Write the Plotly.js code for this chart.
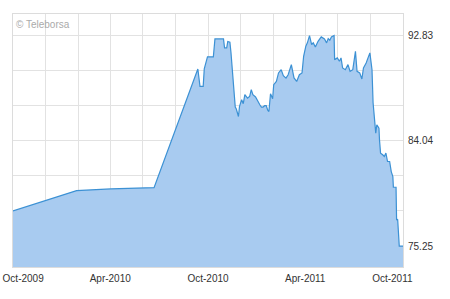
<!DOCTYPE html>
<html>
<head>
<meta charset="utf-8">
<script src="https://cdn.plot.ly/plotly-3.0.1.min.js"></script>
<style>html,body{margin:0;padding:0;background:#fff;}#chart{width:450px;height:299px;}</style>
</head>
<body>
<div id="chart"></div>
<script>
const dates = ['2009-10-01','2010-01-28','2010-04-02','2010-06-22','2010-09-12','2010-09-16','2010-09-22','2010-09-24','2010-09-30','2010-10-11','2010-10-14','2010-10-30','2010-11-01','2010-11-05','2010-11-07','2010-11-11','2010-11-13','2010-11-16','2010-11-18','2010-11-21','2010-11-23','2010-11-27','2010-11-29','2010-12-03','2010-12-06','2010-12-09','2010-12-14','2010-12-18','2010-12-21','2010-12-24','2010-12-29','2011-01-03','2011-01-06','2011-01-09','2011-01-12','2011-01-15','2011-01-18','2011-01-21','2011-01-23','2011-01-26','2011-01-30','2011-02-01','2011-02-06','2011-02-10','2011-02-15','2011-02-19','2011-02-24','2011-02-28','2011-03-06','2011-03-11','2011-03-16','2011-03-21','2011-03-26','2011-03-29','2011-04-02','2011-04-05','2011-04-09','2011-04-13','2011-04-16','2011-04-20','2011-04-25','2011-05-01','2011-05-07','2011-05-11','2011-05-14','2011-05-17','2011-05-20','2011-05-25','2011-05-26','2011-05-31','2011-06-04','2011-06-07','2011-06-10','2011-06-15','2011-06-20','2011-06-24','2011-06-29','2011-07-04','2011-07-07','2011-07-12','2011-07-16','2011-07-19','2011-07-24','2011-07-31','2011-08-03','2011-08-04','2011-08-06','2011-08-09','2011-08-11','2011-08-13','2011-08-17','2011-08-18','2011-08-20','2011-08-24','2011-08-27','2011-08-30','2011-09-02','2011-09-06','2011-09-09','2011-09-12','2011-09-13','2011-09-18','2011-09-19','2011-09-21','2011-09-22','2011-09-24','2011-10-01'];
const prices = [78.18,79.88,80.02,80.13,90.04,88.59,88.59,90.04,91.05,91.05,92.55,92.55,91.80,91.80,92.33,92.27,91.41,89.71,88.73,86.86,86.69,86.07,86.91,87.47,87.14,87.89,87.61,87.75,88.31,87.89,87.70,87.20,87.05,86.86,86.86,86.97,86.97,86.58,86.49,87.97,87.55,88.73,89.00,89.71,89.98,89.48,89.27,89.56,90.40,89.29,89.00,89.56,89.71,91.10,91.93,92.22,92.83,92.08,92.22,91.88,92.35,92.72,92.55,92.22,92.58,92.44,92.72,92.83,90.82,90.96,90.68,90.96,90.12,89.98,90.40,89.84,89.98,91.51,89.84,89.71,89.20,90.12,90.54,91.38,90.54,89.98,87.22,85.80,84.68,85.38,85.10,84.12,83.01,82.87,82.73,83.01,82.31,82.31,81.47,81.05,80.16,80.16,77.43,77.49,76.87,75.25,75.25];

const xGridVals = ['2009-10-01','2009-12-01','2010-02-01','2010-04-01','2010-06-01','2010-08-01','2010-10-01','2010-12-01','2011-02-01','2011-04-01','2011-06-01','2011-08-01','2011-10-01'];
const xLabelVals = ['2009-10-20','2010-04-01','2010-10-01','2011-04-01','2011-09-11'];
const xLabelText = ['Oct-2009','Apr-2010','Oct-2010','Apr-2011','Oct-2011'];
const yTickVals = [75.25,78.18,81.11,84.04,86.97,89.90,92.83];
const yTickText = ['75.25','','','84.04','','','92.83'];
const watermark = '© Teleborsa';

const trace = {
  x: dates, y: prices, type: 'scatter', mode: 'lines',
  fill: 'tozeroy', fillcolor: 'rgb(168,203,240)',
  line: {color: 'rgb(60,145,212)', width: 1.2}
};

const layout = {
  width: 450, height: 299,
  margin: {l: 13, r: 47, t: 14, b: 32},
  paper_bgcolor: '#fff', plot_bgcolor: '#fff',
  showlegend: false,
  font: {family: 'Liberation Sans, Arial, sans-serif', size: 10, color: '#333'},
  xaxis: {
    type: 'date', range: ['2009-10-01','2011-10-01'],
    tickmode: 'array', tickvals: xLabelVals, ticktext: xLabelText,
    showgrid: false, ticks: '', zeroline: false, ticklabelstandoff: 2,
    minor: {tickmode: 'array', tickvals: xGridVals, showgrid: true, gridcolor: '#e2e2e2', gridwidth: 1, ticks: ''},
    showline: true, mirror: true, linecolor: '#dcdcdc', linewidth: 1,
    tickfont: {size: 10, color: '#333'}
  },
  yaxis: {
    side: 'right', range: [73.50, 94.63],
    tickmode: 'array', tickvals: yTickVals, ticktext: yTickText,
    showgrid: true, gridcolor: '#e2e2e2', gridwidth: 1, ticks: '', zeroline: false, ticklabelstandoff: 2,
    showline: true, mirror: true, linecolor: '#dcdcdc', linewidth: 1,
    tickfont: {size: 10, color: '#333'}
  },
  annotations: [{
    text: watermark, xref: 'paper', yref: 'paper', x: 0, y: 1,
    xanchor: 'left', yanchor: 'top', xshift: 1, yshift: -3, showarrow: false,
    font: {size: 10, color: '#aaa'}
  }]
};

Plotly.newPlot('chart', [trace], layout, {staticPlot: true, displayModeBar: false});
</script>
</body>
</html>
